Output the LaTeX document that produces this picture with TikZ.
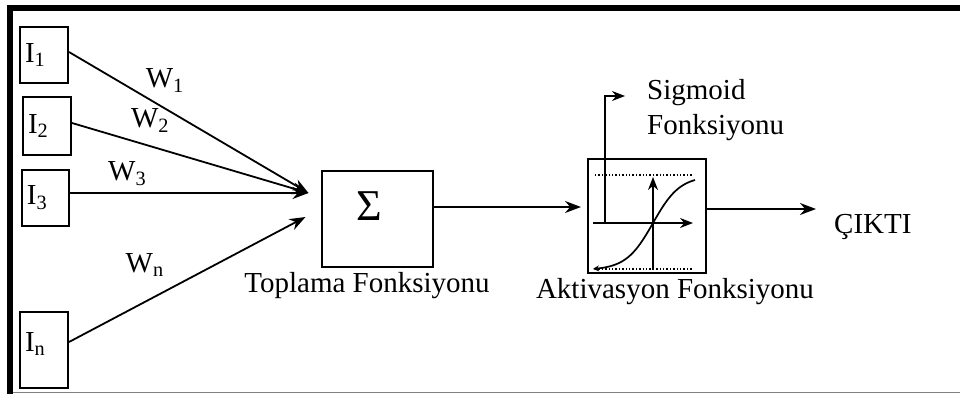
\documentclass[tikz,border=0pt]{standalone}
\usepackage{fontspec}
\setmainfont{Liberation Serif}
\usepackage{tikz}
\usetikzlibrary{arrows.meta,positioning,calc}

\newcommand{\ix}[1]{\textsubscript{#1}}

\begin{document}
\begin{tikzpicture}[
    x=1pt, y=-1pt,
    font=\fontsize{29}{35}\selectfont,
    inbox/.style={rectangle, draw, line width=2pt, text width=38pt, inner xsep=5pt, align=left, minimum height=56pt},
    fbox/.style={rectangle, draw, line width=2pt},
    lbl/.style={inner sep=0pt},
    arr/.style={-{Stealth[length=16pt,width=12pt]}, line width=1.8pt}
]
    \useasboundingbox (0,0) rectangle (960,394);
    % frame of the scan
    \draw[line width=6pt] (10,394) -- (10,8) -- (960,8);
    \draw[gray, line width=1pt] (13,392) -- (960,392);

    % inputs
    \node[inbox] (in1) at (44,55) {I\ix{1}};
    \node[inbox, minimum height=58pt] (in2) at (47,126) {I\ix{2}};
    \node[inbox, text width=37pt] (in3) at (45.5,198) {I\ix{3}};
    \node[inbox, minimum height=76pt, text depth=16pt] (inn) at (44,350) {I\ix{n}};

    % summation and activation
    \node[fbox, minimum width=111pt, minimum height=96pt, text depth=26pt] (sum) at (377,219)
        {\fontsize{44}{44}\selectfont Σ\hspace*{16pt}};
    \node[fbox, minimum width=118pt, minimum height=114pt] (act) at (647,216) {};

    \node[lbl, below=4pt of sum, xshift=-10pt] (sumlbl) {Toplama Fonksiyonu};
    \node[lbl, below=4pt of act, xshift=28pt] (actlbl) {Aktivasyon Fonksiyonu};
    \node[lbl, anchor=west, align=left] (siglbl) at (647,110) {Sigmoid\\Fonksiyonu};
    \node[lbl, right=127pt of act, yshift=-11pt] (out) {ÇIKTI};

    \coordinate (hub) at ([xshift=-12pt,yshift=26pt]sum.west);
    \coordinate (hubn) at ([xshift=-15pt,yshift=2pt]sum.west);
    \coordinate (actin) at ([xshift=-6pt,yshift=9pt]act.west);
    \coordinate (outtip) at ([xshift=-18pt,yshift=18pt]out.west);

    % weighted inputs
    \draw[arr] ([yshift=3pt]in1.east) -- (hub) node[pos=.4, yshift=28pt] {W\ix{1}};
    \draw[arr] ([yshift=3pt]in2.east) -- (hub) node[pos=.33, yshift=26pt] {W\ix{2}};
    \draw[arr] ([yshift=5pt]in3.east) -- (hub) node[pos=.24, yshift=19pt] {W\ix{3}};
    \draw[arr] ([yshift=8pt]inn.east) -- (hubn) node[pos=.32, yshift=37pt] {W\ix{n}};

    \draw[arr] (sum.east |- actin) -- (actin);
    \draw[arr] (act.east |- outtip) -- (outtip);

    % sigmoid inside the activation box
    \begin{scope}[shift={(act.center)}]
        \draw[dotted, line width=1.4pt] (-52,-41) -- (46,-41);
        \draw[dotted, line width=1.4pt] (-52,53) -- (46,53);
        \draw[arr, line width=1.5pt, -{Stealth[length=13pt,width=10pt]}] (-54,7) -- (46,7);
        \draw[arr, line width=1.5pt, -{Stealth[length=13pt,width=10pt]}] (6,54) -- (6,-39);
        \draw[line width=1.7pt, {Stealth[length=6pt,width=6pt]}-] plot[domain=-60:42, samples=60, smooth]
            ({6+\x},{7-47*tanh(\x/27)});
        \coordinate (sigfoot) at (-42,7);
    \end{scope}
    \draw[arr, line width=1.5pt, -{Stealth[length=13pt,width=10pt]}] (sigfoot) |- ([xshift=-22pt,yshift=14pt]siglbl.west);
\end{tikzpicture}
\end{document}
